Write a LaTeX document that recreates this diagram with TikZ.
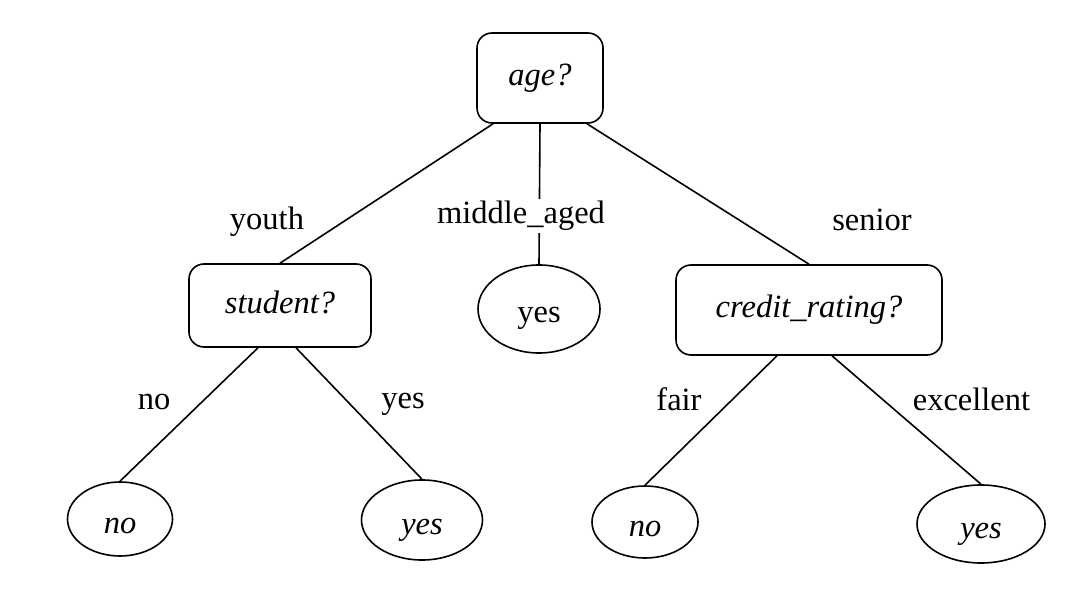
\documentclass[tikz,border=0pt]{standalone}
\usepackage{fontspec}
\setmainfont{Liberation Serif}
\usetikzlibrary{shapes.geometric,positioning}

\begin{document}
\begin{tikzpicture}[x=0.5pt,y=-0.5pt,line width=0.8pt,
	font=\fontsize{16.25}{19}\selectfont,
	test/.style={draw,rectangle,rounded corners=7.5pt,inner sep=0pt,text height=10pt,text depth=2pt},
	leaf/.style={draw,ellipse,inner sep=0pt,text height=16pt,text depth=2pt},
	lbl/.style={inner sep=1pt}
	]

	\useasboundingbox (0,0) rectangle (1092,614);

	% tests
	\node[test,minimum width=63pt,minimum height=45pt] (age) at (540,78) {\itshape age?};
	\node[test,minimum width=91pt,minimum height=41.5pt] (stud) at (280,305.5) {\itshape student?};
	\node[test,minimum width=133pt,minimum height=45pt] (cred) at (809,310) {\itshape credit\_rating?};

	% leaves
	\node[leaf,minimum width=61pt,minimum height=44pt] (myes) at (539,309) {yes};
	\node[leaf,minimum width=52.5pt,minimum height=37pt] (sno) at (120,519) {\itshape no};
	\node[leaf,minimum width=60.5pt,minimum height=40pt] (syes) at (422,520) {\itshape yes};
	\node[leaf,minimum width=53pt,minimum height=36pt] (cno) at (645,522) {\itshape no};
	\node[leaf,minimum width=64pt,minimum height=39pt] (cyes) at (981,524) {\itshape yes};

	\draw ([xshift=-23.5pt]age.south) -- (stud.north);
	\draw (age.south) -- (myes.north);
	\draw ([xshift=23.5pt]age.south) -- (cred.north);

	\draw ([xshift=-11pt]stud.south) -- (sno.north);
	\draw ([xshift=8pt]stud.south) -- (syes.north);
	\draw ([xshift=-16pt]cred.south) -- (cno.north);
	\draw ([xshift=11.5pt]cred.south) -- (cyes.north);

	% branch labels
	\node[lbl] (youth) at (267,222) {youth};
	\node[lbl,fill=white] (mid) at (521,216) {middle\_aged};
	\node[lbl] (senior) at (872,220) {senior};
	\node[lbl] (bno) at (154,402) {no};
	\node[lbl] (byes) at (403,404) {yes};
	\node[lbl] (fair) at (679,399) {fair};
	\node[lbl] (exc) at (971.5,399) {excellent};

\end{tikzpicture}
\end{document}
